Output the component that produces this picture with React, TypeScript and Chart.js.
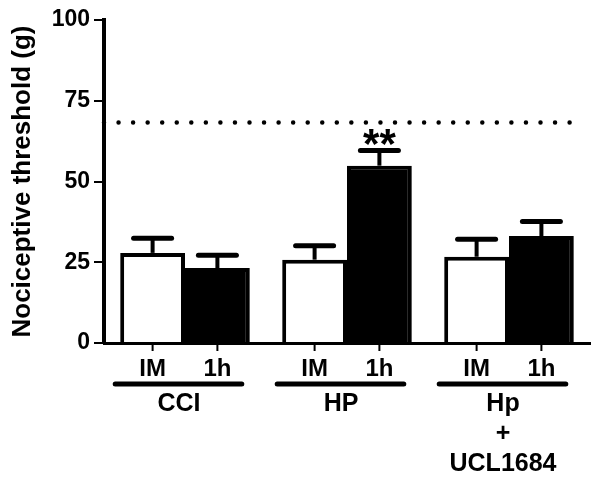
import React, { useEffect, useRef } from 'react';
import { Chart, registerables } from 'chart.js';

Chart.register(...registerables);

// ---- data ----
const groupNames = ['CCI', 'HP', 'Hp + UCL1684'];
const groupLabelLines = [['CCI'], ['HP'], ['Hp', '+', 'UCL1684']];
const subLabels = ['IM', '1h'];
const imValues = [27.9, 25.8, 26.7];
const imErrors = [4.5, 4.3, 5.4];
const oneHourValues = [23.2, 54.9, 33.1];
const oneHourErrors = [4.0, 4.7, 4.5];
const oneHourSignificance = ['', '**', ''];
const yTicks = [0, 25, 50, 75, 100];
const baselineThreshold = 68.3;

const FONT = '"Liberation Sans", Arial, Helvetica, sans-serif';

const overlayPlugin = {
  id: 'overlay',
  afterDatasetsDraw(chart: any) {
    const { ctx, chartArea } = chart;
    const y = chart.scales.y;
    ctx.save();
    ctx.strokeStyle = '#000';
    ctx.fillStyle = '#000';

    // dotted baseline threshold
    const yd = y.getPixelForValue(baselineThreshold);
    ctx.lineWidth = 4.5;
    ctx.lineCap = 'round';
    ctx.setLineDash([0, 14.55]);
    ctx.beginPath();
    ctx.moveTo(chartArea.left, yd);
    ctx.lineTo(chartArea.right - 20, yd);
    ctx.stroke();
    ctx.setLineDash([]);

    // error bars (upper only)
    const vals = [imValues, oneHourValues];
    const errs = [imErrors, oneHourErrors];
    for (let d = 0; d < 2; d++) {
      const meta = chart.getDatasetMeta(d);
      meta.data.forEach((bar: any, i: number) => {
        const top = y.getPixelForValue(vals[d][i]);
        const capY = y.getPixelForValue(vals[d][i] + errs[d][i]);
        ctx.lineCap = 'butt';
        ctx.lineWidth = 4;
        ctx.beginPath();
        ctx.moveTo(bar.x, top);
        ctx.lineTo(bar.x, capY);
        ctx.stroke();
        ctx.lineCap = 'round';
        ctx.lineWidth = 5;
        ctx.beginPath();
        ctx.moveTo(bar.x - 19, capY);
        ctx.lineTo(bar.x + 19, capY);
        ctx.stroke();
        if (d === 1 && oneHourSignificance[i]) {
          ctx.font = `bold 42px ${FONT}`;
          ctx.textAlign = 'center';
          ctx.textBaseline = 'alphabetic';
          const m = ctx.measureText(oneHourSignificance[i]);
          const baseY = capY - 5 - m.actualBoundingBoxDescent;
          ctx.fillText(oneHourSignificance[i], bar.x, baseY);
        }
      });
    }
    ctx.restore();
  },
  afterDraw(chart: any) {
    const { ctx, chartArea } = chart;
    const xs = chart.scales.x;
    const axisY = chartArea.bottom;
    const metas = [chart.getDatasetMeta(0), chart.getDatasetMeta(1)];
    ctx.save();
    ctx.fillStyle = '#000';
    ctx.strokeStyle = '#000';
    ctx.textAlign = 'center';
    ctx.textBaseline = 'middle';
    groupLabelLines.forEach((lines, i) => {
      metas.forEach((meta, d) => {
        const bar: any = meta.data[i];
        ctx.lineCap = 'butt';
        ctx.lineWidth = 2;
        ctx.beginPath();
        ctx.moveTo(bar.x, axisY);
        ctx.lineTo(bar.x, axisY + 8);
        ctx.stroke();
        ctx.font = `bold 24px ${FONT}`;
        ctx.fillText(subLabels[d], bar.x, axisY + 26);
      });
      const b0: any = metas[0].data[i];
      const b1: any = metas[1].data[i];
      const left = b0.x - b0.width / 2 - 5;
      const right = b1.x + b1.width / 2 - 8;
      ctx.lineCap = 'round';
      ctx.lineWidth = 5;
      ctx.beginPath();
      ctx.moveTo(left, axisY + 41);
      ctx.lineTo(right, axisY + 41);
      ctx.stroke();
      const cx = xs.getPixelForTick(i) - 6;
      ctx.font = `bold 25px ${FONT}`;
      lines.forEach((t, k) => ctx.fillText(t, cx, axisY + 61 + k * 30));
    });
    ctx.restore();
  },
};

export default function App() {
  const canvasRef = useRef<HTMLCanvasElement | null>(null);

  useEffect(() => {
    document.body.style.margin = '0';
    const canvas = canvasRef.current;
    if (!canvas) return;
    const chart = new Chart(canvas, {
      type: 'bar',
      data: {
        labels: groupNames,
        datasets: [
          {
            label: subLabels[0],
            data: imValues,
            backgroundColor: '#ffffff',
            borderColor: '#000000',
            borderWidth: 4,
            borderSkipped: 'bottom',
            categoryPercentage: 0.8,
            barPercentage: 1.0,
          },
          {
            label: subLabels[1],
            data: oneHourValues,
            backgroundColor: '#000000',
            borderColor: '#000000',
            borderWidth: 4,
            borderSkipped: 'bottom',
            categoryPercentage: 0.8,
            barPercentage: 1.0,
          },
        ],
      },
      options: {
        responsive: false,
        animation: false,
        layout: { padding: { top: 20, right: 10, bottom: 0, left: 0 } },
        plugins: {
          legend: { display: false },
          tooltip: { enabled: false },
          title: { display: false },
        },
        scales: {
          x: {
            type: 'category',
            grid: { display: false },
            border: { display: true, color: '#000', width: 3 },
            ticks: { display: false },
            afterFit: (scale: any) => {
              scale.height = 142;
            },
          },
          y: {
            min: 0,
            max: 100,
            afterBuildTicks: (scale: any) => {
              scale.ticks = yTicks.map((v) => ({ value: v }));
            },
            grid: {
              display: true,
              drawOnChartArea: false,
              drawTicks: true,
              tickLength: 10,
              lineWidth: 2,
              color: '#000',
            },
            border: { display: true, color: '#000', width: 4 },
            ticks: {
              color: '#000',
              padding: 4,
              font: { family: FONT, size: 23, weight: 'bold' },
            },
            title: {
              display: true,
              text: 'Nociceptive threshold (g)',
              color: '#000',
              padding: { top: 7, bottom: 0 },
              font: { family: FONT, size: 26, weight: 'bold' },
            },
            afterFit: (scale: any) => {
              scale.width = 104;
            },
          },
        },
      },
      plugins: [overlayPlugin],
    });
    return () => chart.destroy();
  }, []);

  return (
    <div style={{ width: 600, height: 485 }}>
      <canvas ref={canvasRef} width={600} height={485} />
    </div>
  );
}
